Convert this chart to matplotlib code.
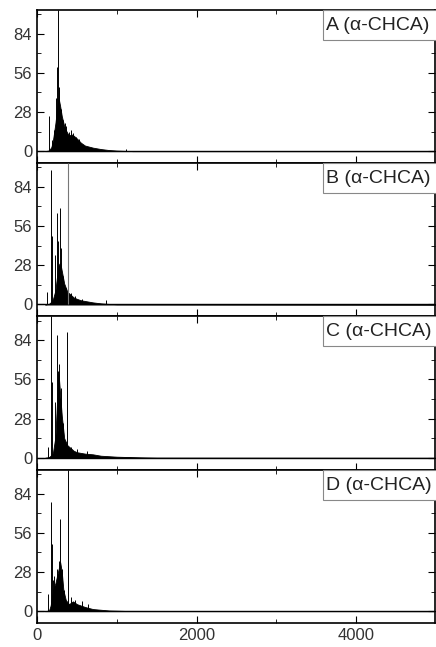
import numpy as np
import matplotlib.pyplot as plt
from matplotlib.ticker import MultipleLocator
from matplotlib.patches import Rectangle

plt.rcParams['font.family'] = ['Liberation Sans', 'DejaVu Sans']

labels = ["A (α-CHCA)", "B (α-CHCA)", "C (α-CHCA)", "D (α-CHCA)"]

# dichter Bereich (Hüllkurve) je Spektrum: m/z, Intensität
env_mz = [
    [100, 150, 180, 200, 230, 250, 270, 290, 310, 340, 370, 400, 430, 460, 500, 550, 600, 700, 800, 900, 1000, 1200, 5000],
    [100, 150, 180, 200, 230, 250, 270, 290, 310, 340, 380, 420, 460, 500, 550, 600, 700, 800, 900, 1000, 5000],
    [100, 150, 180, 200, 230, 250, 270, 290, 310, 340, 380, 420, 460, 500, 600, 700, 800, 1000, 1300, 1500, 5000],
    [100, 150, 170, 200, 230, 250, 270, 290, 310, 330, 360, 400, 450, 500, 550, 600, 700, 800, 900, 1100, 5000],
]
env_int = [
    [0, 0.5, 3, 8, 20, 30, 38, 32, 25, 18, 14, 11, 12, 11, 9, 6, 4, 2.5, 1.5, 0.8, 0.4, 0, 0],
    [0, 0.5, 2, 4, 10, 20, 28, 30, 24, 15, 9, 7, 5, 4, 3, 2.5, 1.5, 0.8, 0.4, 0.2, 0],
    [0, 0.5, 2, 4, 15, 40, 60, 45, 30, 14, 9, 7, 5, 4, 3, 2.5, 1.5, 0.8, 0.3, 0.1, 0],
    [0, 0.5, 4, 15, 20, 25, 30, 35, 28, 15, 8, 5, 7, 5, 4, 3, 1.5, 1, 0.5, 0.2, 0],
]

# einzelne Peaks: m/z, Intensität
peak_mz = [
    [150, 190, 215, 240, 255, 262, 270, 280, 300, 320, 345, 365, 400, 430, 455, 490, 520, 1110],
    [130, 170, 190, 230, 250, 265, 290, 305, 330, 360, 420, 480, 560, 860],
    [140, 170, 190, 230, 250, 262, 280, 300, 330, 380, 430, 500, 620],
    [140, 175, 190, 200, 215, 250, 270, 290, 310, 340, 385, 420, 470, 560, 640],
]
peak_int = [
    [25, 8, 15, 38, 60, 101, 46, 44, 30, 22, 20, 18, 14, 15, 13, 10, 9, 1.5],
    [9, 96, 49, 35, 65, 45, 69, 40, 20, 12, 8, 6, 4, 3],
    [8, 101, 54, 40, 88, 62, 67, 50, 25, 90, 8, 6, 5],
    [12, 78, 48, 22, 25, 30, 36, 66, 30, 15, 101, 10, 8, 7, 5],
]
grey_peak = [None, 385, None, None]

fig, axes = plt.subplots(4, 1, figsize=(4.36, 6.47), sharex=True)
fig.subplots_adjust(left=0.085, right=0.998, top=0.985, bottom=0.037, hspace=0)

for i, ax in enumerate(axes):
    ax.fill_between(env_mz[i], 0, env_int[i], color="black", lw=0.6, zorder=2)
    ax.vlines(peak_mz[i], 0, peak_int[i], color="black", lw=0.7, zorder=3)
    if grey_peak[i] is not None:
        ax.vlines([grey_peak[i]], 0, [101], color="#777777", lw=0.8, zorder=3)
    ax.axhline(0, color="black", lw=1.0, zorder=2)

    ax.set_xlim(0, 4990)
    ax.set_ylim(-8.5, 101)
    ax.yaxis.set_major_locator(MultipleLocator(28))
    ax.yaxis.set_minor_locator(MultipleLocator(14))
    ax.xaxis.set_major_locator(MultipleLocator(2000))
    ax.xaxis.set_minor_locator(MultipleLocator(1000))
    ax.tick_params(which="both", direction="in", top=True, right=True,
                   labelsize=12, labelcolor="#333333")
    ax.tick_params(which="major", length=5)
    ax.tick_params(which="minor", length=3)
    for s in ax.spines.values():
        s.set_linewidth(1.2)

    # Beschriftungskasten oben rechts
    ax.add_patch(Rectangle((0.719, 0.805), 0.4, 0.195, transform=ax.transAxes,
                           fc="white", ec="#888888", lw=0.8, zorder=5, clip_on=False))
    ax.text(0.727, 0.9, labels[i], transform=ax.transAxes, ha="left", va="center",
            fontsize=14, color="#222222", zorder=6)

plt.savefig("out.png", dpi=100)
